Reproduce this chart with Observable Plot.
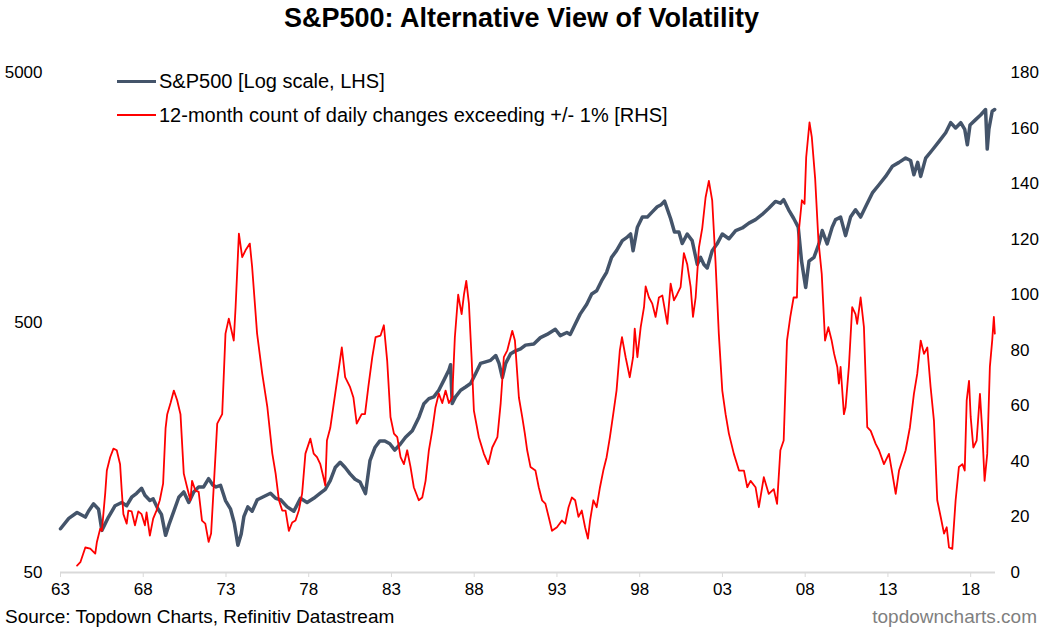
<!DOCTYPE html>
<html>
<head>
<meta charset="utf-8">
<script src="https://cdn.jsdelivr.net/npm/d3@7"></script>
<script src="https://cdn.jsdelivr.net/npm/@observablehq/plot@0.6"></script>
<style>
  html, body { margin: 0; padding: 0; background: #fff; }
  #wrap { position: relative; width: 1043px; height: 630px; overflow: hidden; font-family: "Liberation Sans", Arial, sans-serif; color: #000; }
  #wrap svg { position: absolute; left: 0; top: 0; }
  .title { position: absolute; left: 0; top: 0; width: 1043px; text-align: center; font-size: 27px; font-weight: bold; line-height: 36px; }
  .leg { position: absolute; left: 117px; height: 24px; display: flex; align-items: center; font-size: 20px; white-space: nowrap; }
  .leg .sw { width: 39px; margin-right: 3px; }
  .foot { position: absolute; top: 606px; font-size: 19px; line-height: 22px; white-space: nowrap; }
</style>
</head>
<body>
<div id="wrap">
  <div class="title">S&amp;P500: Alternative View of Volatility</div>
</div>
<script>
// S&P 500 (log scale, LHS) — decimal year on chart axis, index level
const spxYear = [1963.0,1963.5,1964.0,1964.5,1964.7,1965.0,1965.3,1965.5,1965.9,1966.3,1966.7,1967.0,1967.3,1967.6,1967.9,1968.1,1968.4,1968.6,1968.9,1969.1,1969.35,1969.55,1969.85,1970.15,1970.45,1970.75,1971.05,1971.35,1971.65,1971.95,1972.2,1972.4,1972.67,1972.97,1973.27,1973.5,1973.72,1973.92,1974.08,1974.32,1974.58,1974.89,1975.29,1975.69,1976.0,1976.3,1976.7,1977.1,1977.5,1977.9,1978.3,1978.7,1979.0,1979.3,1979.6,1979.9,1980.2,1980.5,1980.8,1981.1,1981.43,1981.7,1982.0,1982.3,1982.6,1982.9,1983.2,1983.55,1983.85,1984.26,1984.66,1984.96,1985.26,1985.56,1985.86,1986.17,1986.47,1986.57,1986.67,1986.87,1987.18,1987.48,1987.78,1988.08,1988.38,1988.69,1988.99,1989.3,1989.5,1989.7,1989.9,1990.2,1990.5,1990.8,1991.1,1991.6,1992.0,1992.4,1992.9,1993.2,1993.6,1993.8,1994.1,1994.4,1994.8,1995.1,1995.4,1995.7,1996.0,1996.3,1996.6,1996.95,1997.25,1997.45,1997.6,1997.86,1998.16,1998.46,1998.76,1999.06,1999.3,1999.5,1999.87,2000.1,2000.37,2000.57,2000.87,2001.17,2001.48,2001.68,2001.88,2002.08,2002.38,2002.68,2002.99,2003.39,2003.8,2004.2,2004.6,2005.0,2005.4,2005.8,2006.2,2006.5,2006.7,2007.0,2007.3,2007.58,2007.78,2008.03,2008.23,2008.53,2008.83,2009.03,2009.33,2009.63,2009.84,2010.14,2010.44,2010.74,2011.04,2011.35,2011.65,2012.06,2012.46,2012.86,2013.27,2013.67,2014.07,2014.37,2014.57,2014.8,2014.98,2015.28,2015.68,2016.09,2016.49,2016.79,2017.09,2017.4,2017.64,2017.8,2017.96,2018.3,2018.6,2018.9,2019.0,2019.1,2019.3,2019.45];
const spxValue = [74.8,82.3,86.9,83.3,88.1,94.1,89.5,73.7,83.3,92.5,95.3,92.5,100,103.7,108.6,101.8,97,98.5,89.5,85.4,70.4,77.5,88,100,105,95.3,105,110,110,118.7,112,110,111.6,97,89.9,78.9,64.3,71.3,83.6,91.5,87.9,97.7,100.7,103.8,99,97.7,91.5,87.9,99,95.2,99,103.8,107.5,116.5,131.5,138,131.5,124,118,115,103.4,140,158,168,168,163.7,154.3,163.7,173.8,184.6,209,236.7,248,252,268,294,323,339,237,252,268,276,285,312,343,348,353,369,343,301,343,375,385,392,406,410,435,448,470,443,456,448,492,540,592,650,670,735,794,911,969,1063,1098,1130,969,1203,1320,1320,1385,1452,1480,1530,1300,1150,1150,1035,1130,1063,853,911,853,826,969,1032,1130,1081,1166,1194,1249,1290,1353,1433,1525,1500,1550,1412,1306,1203,880,690,880,911,1032,1166,1032,1203,1290,1320,1113,1320,1412,1320,1452,1649,1778,1920,2108,2185,2273,2223,1950,2185,1920,2273,2449,2651,2872,3150,3000,3150,2963,2568,3085,3240,3382,3556,2470,2963,3500,3556];

// 12-month count of daily changes exceeding +/-1% (RHS)
const volYear = [1964.0,1964.2,1964.5,1964.8,1965.1,1965.2,1965.4,1965.5,1965.7,1965.8,1966.0,1966.2,1966.4,1966.6,1966.7,1966.8,1967.0,1967.1,1967.3,1967.5,1967.7,1967.9,1968.1,1968.2,1968.4,1968.6,1968.8,1969.0,1969.2,1969.35,1969.45,1969.65,1969.85,1970.05,1970.25,1970.45,1970.65,1970.85,1970.95,1971.15,1971.35,1971.55,1971.75,1971.95,1972.1,1972.27,1972.47,1972.77,1972.97,1973.17,1973.47,1973.58,1973.78,1973.98,1974.18,1974.44,1974.58,1974.88,1975.19,1975.5,1975.8,1976.0,1976.2,1976.4,1976.6,1976.8,1977.0,1977.2,1977.4,1977.6,1977.8,1978.1,1978.3,1978.5,1978.7,1978.9,1979.0,1979.1,1979.3,1979.6,1979.8,1980.0,1980.2,1980.5,1980.7,1980.9,1981.2,1981.4,1981.6,1981.84,1982.04,1982.34,1982.54,1982.74,1982.94,1983.15,1983.35,1983.55,1983.75,1983.95,1984.15,1984.35,1984.65,1984.86,1985.06,1985.26,1985.46,1985.66,1985.86,1986.07,1986.27,1986.47,1986.67,1986.83,1987.03,1987.24,1987.38,1987.52,1987.68,1987.84,1987.98,1988.28,1988.58,1988.85,1989.09,1989.4,1989.6,1989.79,1990.0,1990.3,1990.46,1990.7,1990.9,1991.06,1991.2,1991.4,1991.7,1991.9,1992.1,1992.3,1992.5,1992.7,1993.0,1993.3,1993.5,1993.7,1993.9,1994.1,1994.3,1994.5,1994.7,1994.87,1995.0,1995.2,1995.4,1995.6,1995.8,1996.0,1996.2,1996.4,1996.6,1996.8,1996.93,1997.15,1997.4,1997.6,1997.7,1997.86,1998.06,1998.26,1998.36,1998.56,1998.76,1998.96,1999.16,1999.37,1999.67,1999.87,2000.07,2000.25,2000.47,2000.67,2000.87,2001.08,2001.22,2001.38,2001.58,2001.78,2001.98,2002.18,2002.38,2002.58,2002.78,2002.99,2003.19,2003.39,2003.69,2004.0,2004.3,2004.5,2004.7,2005.0,2005.2,2005.5,2005.8,2006.1,2006.3,2006.5,2006.7,2006.9,2007.1,2007.3,2007.5,2007.6,2007.8,2007.96,2008.06,2008.26,2008.4,2008.6,2008.8,2009.0,2009.2,2009.4,2009.6,2009.75,2009.94,2010.04,2010.14,2010.34,2010.44,2010.64,2010.84,2011.04,2011.14,2011.35,2011.55,2011.75,2011.96,2012.26,2012.46,2012.76,2013.06,2013.27,2013.47,2013.67,2013.87,2014.07,2014.33,2014.57,2014.77,2014.98,2015.18,2015.38,2015.58,2015.78,2015.98,2016.19,2016.39,2016.55,2016.69,2016.89,2017.09,2017.29,2017.5,2017.64,2017.76,2017.9,2018.0,2018.16,2018.36,2018.56,2018.7,2018.84,2019.0,2019.16,2019.3,2019.4,2019.46];
const volValue = [2.5,3.7,9,8.6,6.8,11,15.8,15,28.4,36.7,41.5,44.6,44,39,29.5,21,17.6,22.3,22,17,22,21,17,21.6,13.3,19.4,22.3,26,32,52,57,61,65.5,62,57,35.6,30.7,26,33,29.5,29,18.7,17.6,11,14,32,53.6,57,86,91.4,83.5,95.5,122,113.5,116,118.4,110,86,71.6,59.5,42.8,35.6,26,22.3,22.3,15,18,18.7,22.3,28.4,42.8,48.2,42.8,41.5,39,34,31.3,47.5,52,64.4,72.7,81,70.3,66.7,63,53.6,57,57,66.7,77.5,84.7,85.3,89,76.3,56,50,48.7,41.5,39,44,38,30.7,26,27,33,44,51,59.5,64.4,61,65.5,61,63,84.7,100,93,100,105,96.8,77.5,58.3,48.7,42.8,39,45,48.7,61,77.5,80,87,83.5,63,56,50,44,38,36.7,30.7,26,24.8,20,15,16.3,18.7,17.6,23.5,27,26,20,22.3,16.3,12.2,18.7,26,23.5,30.7,36.7,41.5,48.7,57,65.5,80,84.7,77.5,70.3,77.5,87.8,77.5,88.3,95.5,103,99,96.8,92,99,99.7,89.5,104,98,100,102.7,115,111,102.7,92,99,117,124,135,141,134,112,86,65.5,57,50,42.7,36.7,36.7,30.7,33,30.7,23.5,34.3,28.3,30,24.7,44,47.5,83.5,92,99,99,122,134,132.7,149.5,162,156.7,142,119.5,107.5,83.5,88.3,83.5,78.7,74,68,74,57,59.5,74,95.5,93,89.5,99,88.3,52.3,51,46.3,44,39,42.7,35.5,28.3,36.7,40.3,44,52.3,64.3,71.5,83.5,78.7,81,66.7,54.7,26,20,14,16.3,9,8.5,26,38,39,36.7,62,69,56,45,47.5,64.3,51,33,42.7,74,83.5,92,86];

// Axis ticks and labels
const xTickYears = [1963,1968,1973,1978,1983,1988,1993,1998,2003,2008,2013,2018];
const xTickLabels = ["63","68","73","78","83","88","93","98","03","08","13","18"];
const lhsTicks = [50, 500, 5000];
const rhsTicks = [0, 20, 40, 60, 80, 100, 120, 140, 160, 180];

// Right-hand values are placed on the left log scale: 0..180 spans 50..5000
const toLog = v => 50 * Math.pow(10, v / 90);

const spx = spxYear.map((t, i) => ({t, v: spxValue[i]}));
const vol = volYear.map((t, i) => ({t, v: volValue[i]}));

const font = "'Liberation Sans', Arial, sans-serif";

const chart = Plot.plot({
  width: 1043,
  height: 630,
  marginTop: 72,
  marginBottom: 58,
  marginLeft: 60,
  marginRight: 48,
  style: {fontFamily: font, fontSize: "17px", color: "#000", background: "transparent", overflow: "visible"},
  x: {type: "linear", domain: [1963, 2019.5]},
  y: {type: "log", domain: [50, 5000]},
  marks: [
    Plot.ruleY([50], {stroke: "#D9D9D9", strokeWidth: 2}),
    Plot.axisX({ticks: xTickYears, tickFormat: d => xTickLabels[xTickYears.indexOf(d)], tickSize: 5, tickPadding: 5, stroke: "#D9D9D9", fill: "#000", label: null, fontSize: 17}),
    Plot.axisY({ticks: lhsTicks, tickFormat: d => String(d), anchor: "left", tickSize: 0, tickPadding: 18, label: null, fill: "#000", fontSize: 17}),
    // right-hand axis labels (0..180) positioned through the y scale
    Plot.text(rhsTicks, {y: d => toLog(d), text: d => String(d), frameAnchor: "right", textAnchor: "start", dx: 15, fill: "#000", fontSize: 17}),
    Plot.line(spx, {x: "t", y: "v", stroke: "#44546A", strokeWidth: 3.5, strokeLinejoin: "round"}),
    Plot.line(vol, {x: "t", y: d => toLog(d.v), stroke: "#FF0000", strokeWidth: 1.8, strokeLinejoin: "round"})
  ]
});

const wrap = document.getElementById("wrap");
wrap.insertBefore(chart, wrap.firstChild);

function legendRow(top, color, thick, text) {
  const row = document.createElement("div");
  row.className = "leg";
  row.style.top = top + "px";
  const sw = document.createElement("div");
  sw.className = "sw";
  sw.style.height = thick + "px";
  sw.style.background = color;
  const lab = document.createElement("span");
  lab.textContent = text;
  row.appendChild(sw);
  row.appendChild(lab);
  wrap.appendChild(row);
}
legendRow(69, "#44546A", 3, "S&P500 [Log scale, LHS]");
legendRow(103, "#FF0000", 2, "12-month count of daily changes exceeding +/- 1% [RHS]");

const src = document.createElement("div");
src.className = "foot";
src.style.left = "5px";
src.textContent = "Source: Topdown Charts, Refinitiv Datastream";
wrap.appendChild(src);

const site = document.createElement("div");
site.className = "foot";
site.style.right = "6px";
site.style.color = "#7F7F7F";
site.textContent = "topdowncharts.com";
wrap.appendChild(site);
</script>
</body>
</html>
